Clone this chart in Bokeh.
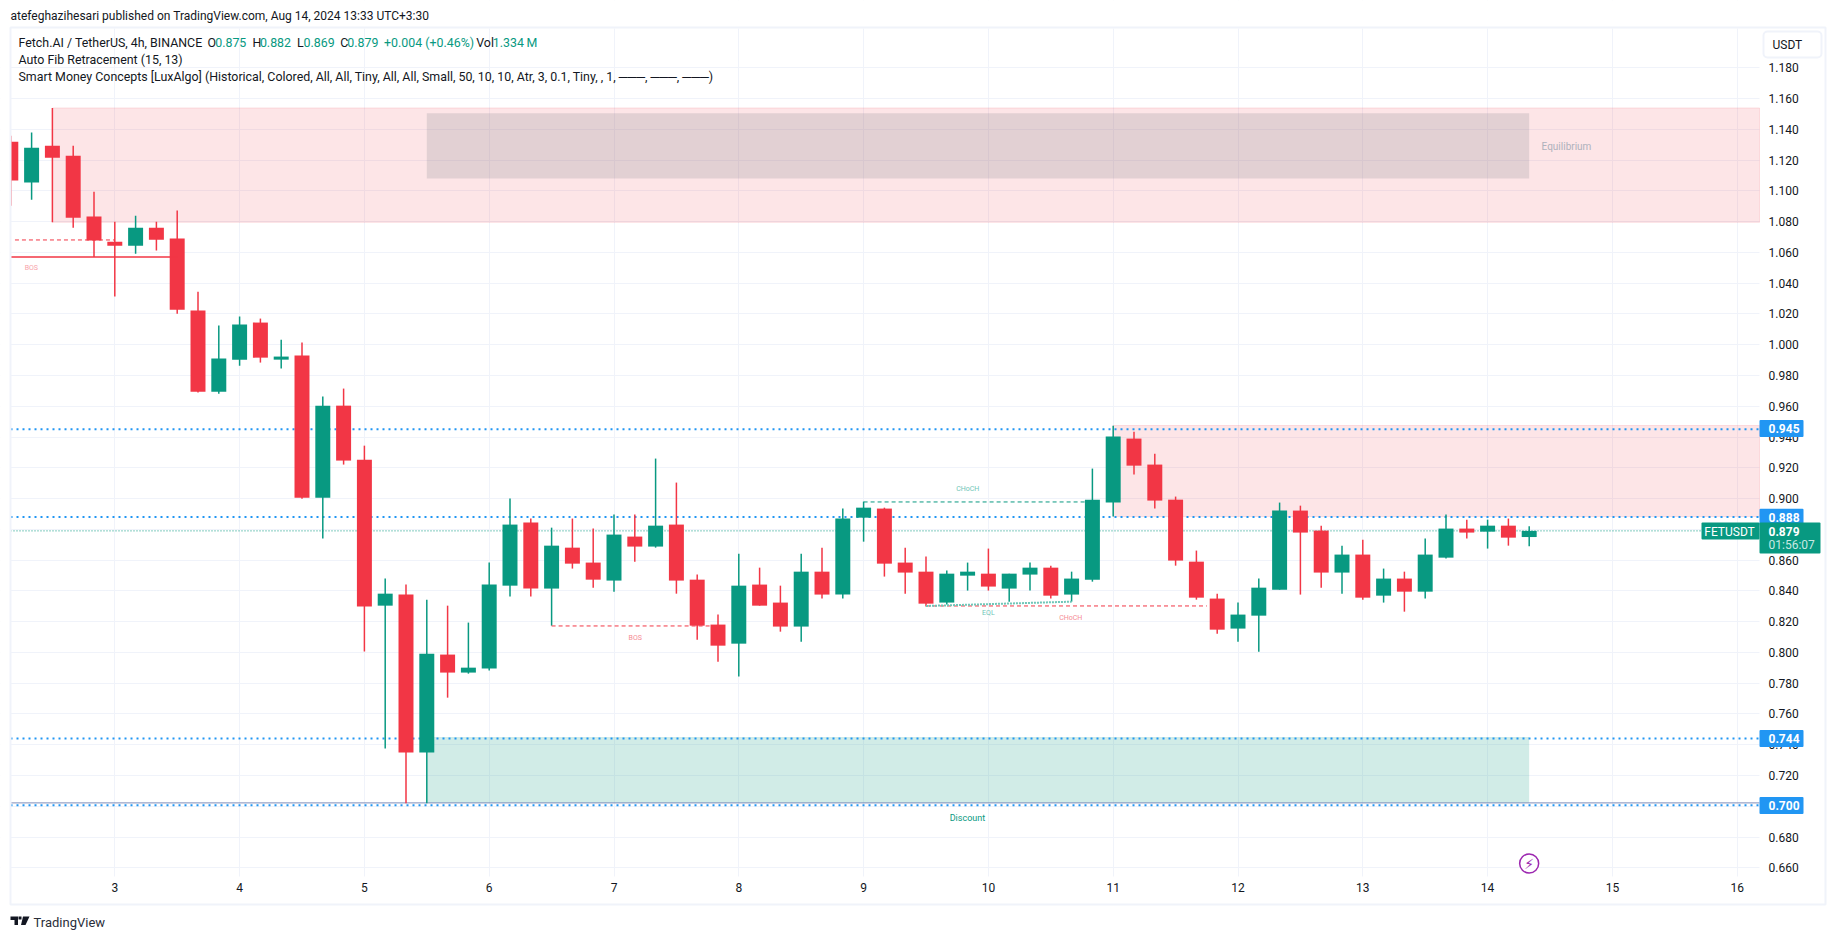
from bokeh.plotting import figure
from bokeh.models import (ColumnDataSource, FixedTicker, NumeralTickFormatter, Label, LinearAxis, Grid,
                          BoxAnnotation, PolyAnnotation, Range1d)
from bokeh.core.properties import value
from bokeh.embed import file_html
from bokeh.resources import INLINE

FONT = "Roboto"
GREEN = "#089981"
RED = "#F23645"
BLUE = "#2196F3"
DARK = "#131722"
BORDER = "#F0F3FA"

# ---- data ----
candle_no = list(range(1, 75))
opens = [1.1320,1.1054,1.1294,1.1229,1.0833,1.0670,1.0644,1.0761,1.0690,1.0222,
         0.9695,0.9903,1.0144,0.9903,0.9930,0.9006,0.9604,0.9253,0.8304,0.8376,
         0.7349,0.7986,0.7869,0.7895,0.8434,0.8844,0.8415,0.8681,0.8584,0.8467,
         0.8753,0.8688,0.8831,0.8473,0.8181,0.8057,0.8441,0.8324,0.8168,0.8525,
         0.8376,0.8876,0.8935,0.8584,0.8525,0.8324,0.8499,0.8512,0.8415,0.8506,
         0.8551,0.8376,0.8473,0.8974,0.9390,0.9221,0.8993,0.8590,0.8350,0.8155,
         0.8239,0.8408,0.8922,0.8792,0.8519,0.8636,0.8369,0.8480,0.8395,0.8616,
         0.8805,0.8785,0.8824,0.8750]
highs = [1.1359,1.1379,1.1539,1.1294,1.0995,1.0800,1.0839,1.0800,1.0872,1.0345,
         1.0125,1.0183,1.0170,1.0033,1.0014,0.9663,0.9715,0.9344,0.8480,0.8441,
         0.8343,0.8304,0.8194,0.8584,0.9000,0.8870,0.8811,0.8870,0.8805,0.8896,
         0.8896,0.9260,0.9104,0.8506,0.8246,0.8642,0.8551,0.8434,0.8642,0.8681,
         0.8935,0.8980,0.8941,0.8681,0.8623,0.8532,0.8584,0.8675,0.8512,0.8584,
         0.8564,0.8525,0.9195,0.9474,0.9435,0.9292,0.9013,0.8662,0.8382,0.8324,
         0.8480,0.8974,0.8954,0.8824,0.8694,0.8733,0.8545,0.8525,0.8740,0.8896,
         0.8863,0.8863,0.8870,0.8820]
lows = [1.0904,1.0943,1.0796,1.0761,1.0571,1.0313,1.0592,1.0612,1.0202,0.9690,
        0.9682,0.9864,0.9884,0.9845,0.8999,0.8740,0.9221,0.8006,0.7375,0.7020,
        0.7020,0.7706,0.7862,0.7882,0.8363,0.8363,0.8174,0.8545,0.8421,0.8395,
        0.8590,0.8681,0.8382,0.8083,0.7940,0.7843,0.8304,0.8135,0.8070,0.8350,
        0.8350,0.8720,0.8493,0.8382,0.8298,0.8311,0.8402,0.8402,0.8330,0.8402,
        0.8350,0.8330,0.8460,0.8883,0.9156,0.8935,0.8564,0.8343,0.8122,0.8070,
        0.8005,0.8408,0.8376,0.8421,0.8382,0.8343,0.8324,0.8265,0.8350,0.8610,
        0.8740,0.8675,0.8694,0.8690]
closes = [1.1067,1.1281,1.1216,1.0826,1.0677,1.0644,1.0761,1.0683,1.0228,0.9695,
          0.9910,1.0131,0.9916,0.9923,0.9006,0.9604,0.9247,0.8298,0.8382,0.7349,
          0.7992,0.7869,0.7901,0.8441,0.8831,0.8415,0.8694,0.8577,0.8473,0.8766,
          0.8688,0.8824,0.8467,0.8174,0.8044,0.8434,0.8304,0.8168,0.8525,0.8376,
          0.8870,0.8941,0.8577,0.8519,0.8317,0.8512,0.8525,0.8428,0.8512,0.8551,
          0.8369,0.8480,0.8993,0.9403,0.9214,0.8987,0.8597,0.8356,0.8148,0.8246,
          0.8421,0.8922,0.8779,0.8519,0.8636,0.8356,0.8480,0.8395,0.8636,0.8805,
          0.8779,0.8824,0.8746,0.8790]
day_ticks = list(range(3, 17))
price_ticks = [0.66,0.68,0.70,0.72,0.74,0.76,0.78,0.80,0.82,0.84,0.86,0.88,0.90,0.92,0.94,
               0.96,0.98,1.00,1.02,1.04,1.06,1.08,1.10,1.12,1.14,1.16,1.18]
fib_levels = [0.945, 0.888, 0.744, 0.7007]
level_tags = ["0.945", "0.888", "0.744", "0.700"]
last_price = 0.879
premium_zone = dict(left=[2.5], right=[16.1787], top=[1.1539], bottom=[1.0796])
supply_zone = dict(left=[11.0], right=[16.1787], top=[0.9475], bottom=[0.8883])
equilibrium_zone = dict(left=[5.5], right=[14.333], top=[1.1505], bottom=[1.1080])
discount_zone = dict(left=[5.5], right=[14.333], top=[0.7451], bottom=[0.7022])
low_line = 0.7022
red_dash = dict(x0=[2.2, 6.5, 9.5], x1=[3.0, 7.8, 11.75], y=[1.0681, 0.8172, 0.8302])
red_solid = dict(x0=[2.16], x1=[3.5], y=[1.0571])
green_dash = dict(x0=[9.0], x1=[10.833], y=[0.8978])
eql_line = dict(x0=[9.5], x1=[10.667], y0=[0.8302], y1=[0.8330])
struct_text = ["BOS", "BOS", "CHoCH", "EQL", "CHoCH"]
struct_x = [2.331, 7.17, 9.835, 10.0, 10.66]
struct_y = [1.0500, 0.8094, 0.9063, 0.8254, 0.8224]
struct_col = ["#F8A3AA", "#F58B94", "#6FC6B8", "#6FC6B8", "#F58B94"]

# ---- scales: the plot frame covers the canvas so that price tags and header can sit round the pane ----
L, R, T, B = 10, 1759, 28, 876
W, H = 1830, 935
x0r, x1r = 2.1643, 16.1787
y0r, y1r = 0.6543, 1.2055
p = figure(width=W, height=H, output_backend="svg", toolbar_location=None,
           x_range=Range1d(3 - 114.3 / 124.8, 3 + (W - 114.3) / 124.8),
           y_range=Range1d(1.18 - (H - 67.3) / 1538.5, 1.18 + 67.3 / 1538.5),
           x_axis_location=None, y_axis_location=None,
           min_border_left=0, min_border_right=0, min_border_top=0, min_border_bottom=0,
           outline_line_color=None, background_fill_color="white", border_fill_color="white")
p.grid.visible = False
p.add_layout(Grid(dimension=0, ticker=FixedTicker(ticks=day_ticks), grid_line_color=BORDER))
p.add_layout(Grid(dimension=1, ticker=FixedTicker(ticks=price_ticks), grid_line_color=BORDER))
xax = LinearAxis(ticker=FixedTicker(ticks=day_ticks), fixed_location=y0r)
yax = LinearAxis(ticker=FixedTicker(ticks=price_ticks), fixed_location=x1r,
                 formatter=NumeralTickFormatter(format="0.000"))
for ax, standoff in ((xax, 6), (yax, 9)):
    ax.axis_line_color = None
    ax.major_tick_line_color = None
    ax.minor_tick_line_color = None
    ax.major_tick_out = 0
    ax.major_tick_in = 0
    ax.major_label_standoff = standoff
    ax.major_label_text_font = FONT
    ax.major_label_text_font_size = "12px"
    ax.major_label_text_color = DARK
p.add_layout(xax, "below")
p.add_layout(yax, "right")


def box(left, top, right, bottom, fill=None, line=None, width=1, radius=0, level="overlay"):
    p.add_layout(BoxAnnotation(left=left, right=right, top=top, bottom=bottom,
                               left_units="canvas", right_units="canvas", top_units="canvas", bottom_units="canvas",
                               fill_color=fill, fill_alpha=1 if fill else 0, line_color=line, line_alpha=1,
                               line_width=width, border_radius=radius, level=level, editable=False))


# keep the grid inside the pane
box(0, 0, W, T, "white", None, 0, 0, "underlay")
box(0, B, W, H, "white", None, 0, 0, "underlay")
box(0, 0, L, H, "white", None, 0, 0, "underlay")
box(R, 0, W, H, "white", None, 0, 0, "underlay")

# ---- zones ----
for z in (premium_zone, supply_zone):
    p.quad(source=ColumnDataSource(z), left="left", right="right", top="top", bottom="bottom",
           fill_color=RED, fill_alpha=0.13, line_color=RED, line_alpha=0.13)
p.quad(source=ColumnDataSource(equilibrium_zone), left="left", right="right", top="top", bottom="bottom",
       fill_color="#787B86", fill_alpha=0.2, line_color=None)
p.quad(source=ColumnDataSource(discount_zone), left="left", right="right", top="top", bottom="bottom",
       fill_color=GREEN, fill_alpha=0.19, line_color=None)

# ---- horizontal levels ----
p.segment(x0=[x0r], x1=[x1r], y0=[low_line], y1=[low_line], line_color="#7F8DB8", line_width=1)
p.segment(x0=[x0r] * 4, x1=[x1r] * 4, y0=fib_levels, y1=fib_levels, line_color=BLUE, line_width=2, line_dash="2 4")
p.segment(x0=[x0r], x1=[x1r], y0=[last_price], y1=[last_price], line_color=GREEN, line_width=1, line_dash="1 2")

# ---- candles ----
days = [2 + k / 6 for k in candle_no]
cols = [GREEN if c >= o else RED for o, c in zip(opens, closes)]
src = ColumnDataSource(dict(x=days, o=opens, h=highs, l=lows, c=closes, col=cols))
p.segment(source=src, x0="x", x1="x", y0="l", y1="h", line_color="col", line_width=1.5)
p.vbar(source=src, x="x", width=0.12, top="o", bottom="c", fill_color="col", line_color=None)

# ---- structure marks ----
p.segment(x0=red_dash["x0"], x1=red_dash["x1"], y0=red_dash["y"], y1=red_dash["y"], line_color=RED, line_width=1, line_dash="4 3")
p.segment(x0=red_solid["x0"], x1=red_solid["x1"], y0=red_solid["y"], y1=red_solid["y"], line_color=RED, line_width=1.5)
p.segment(x0=green_dash["x0"], x1=green_dash["x1"], y0=green_dash["y"], y1=green_dash["y"], line_color=GREEN, line_width=1, line_dash="4 3")
p.segment(x0=eql_line["x0"], x1=eql_line["x1"], y0=eql_line["y0"], y1=eql_line["y1"], line_color="#6FC6B8", line_width=2, line_dash="2 1")
p.text(x=struct_x, y=struct_y, text=struct_text, text_color=struct_col, text_font=value(FONT),
       text_font_size="7px", text_align="center", text_baseline="middle")
p.text(x=[9.832], y=[0.6925], text=["Discount"], text_color=["#089981"], text_font=value(FONT),
       text_font_size="9px", text_align="center", text_baseline="middle")
p.text(x=[14.632], y=[1.1290], text=["Equilibrium"], text_color=["#AEB1BC"], text_font=value(FONT),
       text_font_size="10px", text_align="center", text_baseline="middle")
# lightning badge
p.scatter(x=[14.333], y=[0.6628], size=19, marker="circle", fill_color="white", line_color="#9C27B0", line_width=1.5)
p.text(x=[14.333], y=[0.6628], text=["\u26A1"], text_color=["#9C27B0"], text_font=value("DejaVu Sans"),
       text_font_size="14px", text_align="center", text_baseline="middle")


def label(text, px, py, color=DARK, size="12.4px", style="normal", align="left"):
    p.add_layout(Label(x=px, y=py, x_units="canvas", y_units="canvas", text=text, level="overlay",
                       text_color=color, text_font=FONT, text_font_size=size,
                       text_font_style=style, text_align=align, text_baseline="middle"))


# ---- outer frame and left cover ----
box(0, 27, 10, H, "white", None, 0, 0, "annotation")
box(10, 27, 1825, 904, None, BORDER, 2)

# ---- header ----
label("atefeghazihesari published on TradingView.com, Aug 14, 2024 13:33 UTC+3:30", 10, 15, DARK, "12px")
label("Fetch.AI / TetherUS, 4h, BINANCE", 18, 42)
for t, x, c in [("O", 207, DARK), ("0.875", 214.7, GREEN), ("H", 252, DARK), ("0.882", 259.4, GREEN),
                ("L", 296.6, DARK), ("0.869", 303, GREEN), ("C", 339.7, DARK), ("0.879", 346.8, GREEN),
                ("+0.004 (+0.46%)", 383.5, GREEN), ("Vol", 475.7, DARK), ("1.334\u2009M", 492.3, GREEN)]:
    label(t, x, 42, c)
label("Auto Fib Retracement (15, 13)", 18, 59)
label("Smart Money Concepts [LuxAlgo] (Historical, Colored, All, All, Tiny, All, All, Small, 50, 10, 10, Atr, 3, 0.1, Tiny, , 1, \u2500\u2500\u2500, \u2500\u2500\u2500, \u2500\u2500\u2500)", 18, 76)

# ---- USDT button ----
box(1763, 31, 1821, 57, "white", BORDER, 2, 4)
label("USDT", 1772, 44.5, DARK, "12px")

# ---- price tags ----
for tag, py in zip(level_tags, [428, 516.7, 738, 805]):
    box(1759, py - 8.5, 1803, py + 8.5, BLUE, None, 0, 1)
    label(tag, 1768, py, "white", "12px", "bold")
box(1701, 522, 1759, 539, GREEN, None, 0, 1)
label("FETUSDT", 1729, 531, "white", "12px", "normal", "center")
box(1759, 522, 1820, 553, GREEN, None, 0, 1)
label("0.879", 1768, 530.5, "white", "12px", "bold")
label("01:56:07", 1768, 544.5, "#C8E8E2", "12px")

# ---- logo ----
for xs, ys in [([10, 17.5, 17.5, 14, 14, 10], [916, 916, 924.5, 924.5, 919.5, 919.5]),
               ([18, 21, 21, 18], [916, 916, 919, 919]),
               ([22.5, 29, 25, 20.5], [916, 916, 924.5, 924.5])]:
    p.add_layout(PolyAnnotation(xs=xs, ys=ys, xs_units="canvas", ys_units="canvas", level="overlay",
                                fill_color=DARK, fill_alpha=1, line_color=None, editable=False))
label("TradingView", 33, 921.5, "#2A2E39", "13px")

open("out.html", "w").write(file_html(p, INLINE))
